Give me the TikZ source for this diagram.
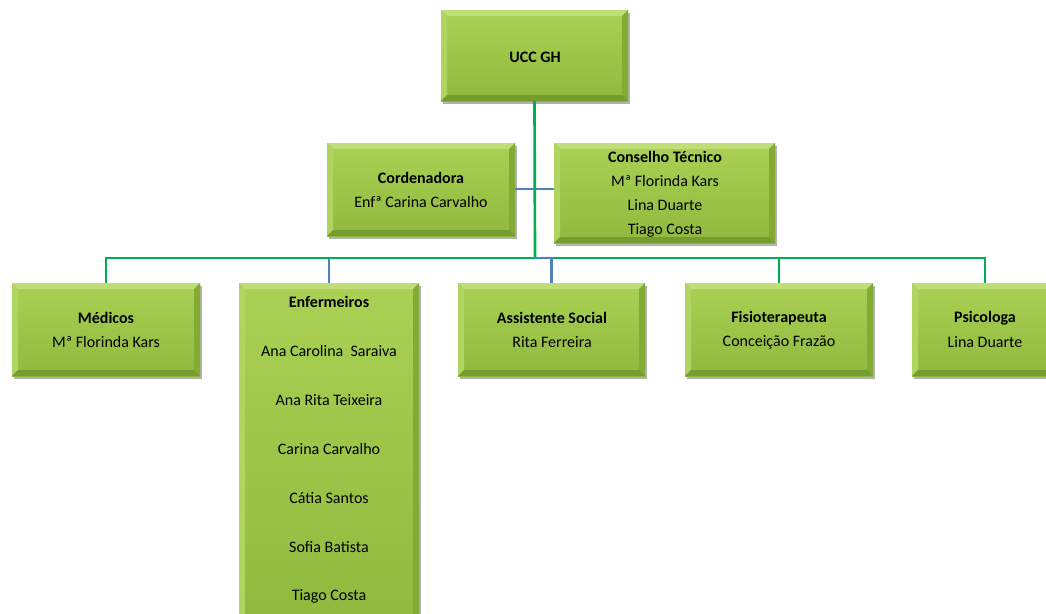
\documentclass[tikz,border=0pt]{standalone}
\usepackage{fontspec}
\setmainfont{Carlito}
\usetikzlibrary{fit,shadows}
\definecolor{facetop}{HTML}{AAD153}
\definecolor{facebot}{HTML}{8FB93E}
\definecolor{bevtop}{HTML}{BFDE78}
\definecolor{bevleft}{HTML}{B0D462}
\definecolor{bevright}{HTML}{83AA35}
\definecolor{bevbot}{HTML}{779C2E}
\definecolor{lgreen}{HTML}{00B050}
\definecolor{lblue}{HTML}{4F81BD}
\tikzset{
  x=0.75pt, y=-0.75pt,
  bevelbox/.style={rectangle, inner sep=0pt, outer sep=0pt,
    top color=facetop, bottom color=facebot,
    drop shadow={shadow xshift=1.8pt, shadow yshift=-2.2pt, fill=black, opacity=0.3},
    path picture={
      \def\bb{path picture bounding box}
      \fill[bevtop] (\bb.north west) -- (\bb.north east) -- ([shift={(-4.5pt,-4.5pt)}]\bb.north east) -- ([shift={(4.5pt,-4.5pt)}]\bb.north west) -- cycle;
      \fill[bevleft] (\bb.north west) -- ([shift={(4.5pt,-4.5pt)}]\bb.north west) -- ([shift={(4.5pt,4.5pt)}]\bb.south west) -- (\bb.south west) -- cycle;
      \fill[bevright] (\bb.north east) -- ([shift={(-4.5pt,-4.5pt)}]\bb.north east) -- ([shift={(-4.5pt,4.5pt)}]\bb.south east) -- (\bb.south east) -- cycle;
      \fill[bevbot] (\bb.south west) -- ([shift={(4.5pt,4.5pt)}]\bb.south west) -- ([shift={(-4.5pt,4.5pt)}]\bb.south east) -- (\bb.south east) -- cycle;
    }},
  titletext/.style={font=\bfseries\fontsize{12}{14}\selectfont, inner sep=0pt},
  nametext/.style={font=\fontsize{12}{14}\selectfont, inner sep=0pt},
  gline/.style={draw=lgreen, line width=2pt},
  bline/.style={draw=lblue, line width=2pt},
}
\begin{document}
\begin{tikzpicture}
\useasboundingbox (0,0) rectangle (1046,614);
\clip (0,0) rectangle (1046,614);
\fill[white] (0,0) rectangle (1046,614);

\coordinate (hub) at (535,258);
\coordinate (tech) at (535,189);
\node[bevelbox, fit={(441,10) (628,101)}] (ucc) {};
\node[bevelbox, fit={(327,143) (515,236)}] (cord) {};
\node[bevelbox, fit={(554,143) (775,243)}] (cons) {};
\node[bevelbox, fit={(12,283) (200,376)}] (med) {};
\node[bevelbox, fit={(239,283) (419,630)}] (enf) {};
\node[bevelbox, fit={(458,283) (645,376)}] (ass) {};
\node[bevelbox, fit={(685,283) (873,376)}] (fis) {};
\node[bevelbox, fit={(912,283) (1058,376)}] (psi) {};

% connectors
\draw[bline] (cord.east |- tech) -- (cons.west |- tech);
\draw[bline] (hub) -| (enf.north);
\draw[gline] (ucc.south) -- (hub);
\draw[gline] (hub) -| (med.north);
\draw[gline] (hub) -| (fis.north);
\draw[gline] (hub) -| (psi.north);
\draw[bline] (hub) -| (ass.north);

% texts
\node[titletext] (t-ucc) at (535,57) {UCC GH};
\node[titletext] (t-cord) at (421,178) {Cordenadora};
\node[nametext] (n-cord) at (421,202) {Enfª Carina Carvalho};
\node[titletext] (t-cons) at (665,157) {Conselho Técnico};
\node[nametext] (n-cons1) at (665,181) {Mª Florinda Kars};
\node[nametext] (n-cons2) at (665,205) {Lina Duarte};
\node[nametext] (n-cons3) at (665,230) {Tiago Costa};
\node[titletext] (t-med) at (106,318) {Médicos};
\node[nametext] (n-med) at (106,342) {Mª Florinda Kars};
\node[titletext] (t-enf) at (329,302) {Enfermeiros};
\node[nametext] (n-enf1) at (329,351) {Ana Carolina\ \ Saraiva};
\node[nametext] (n-enf2) at (329,400) {Ana Rita Teixeira};
\node[nametext] (n-enf3) at (329,449) {Carina Carvalho};
\node[nametext] (n-enf4) at (329,498) {Cátia Santos};
\node[nametext] (n-enf5) at (329,547) {Sofia Batista};
\node[nametext] (n-enf6) at (329,596) {Tiago Costa};
\node[titletext] (t-ass) at (552,318) {Assistente Social};
\node[nametext] (n-ass) at (552,342) {Rita Ferreira};
\node[titletext] (t-fis) at (779,318) {Fisioterapeuta};
\node[nametext] (n-fis) at (779,342) {Conceição Frazão};
\node[titletext] (t-psi) at (985,318) {Psicologa};
\node[nametext] (n-psi) at (985,342) {Lina Duarte};
\end{tikzpicture}
\end{document}
